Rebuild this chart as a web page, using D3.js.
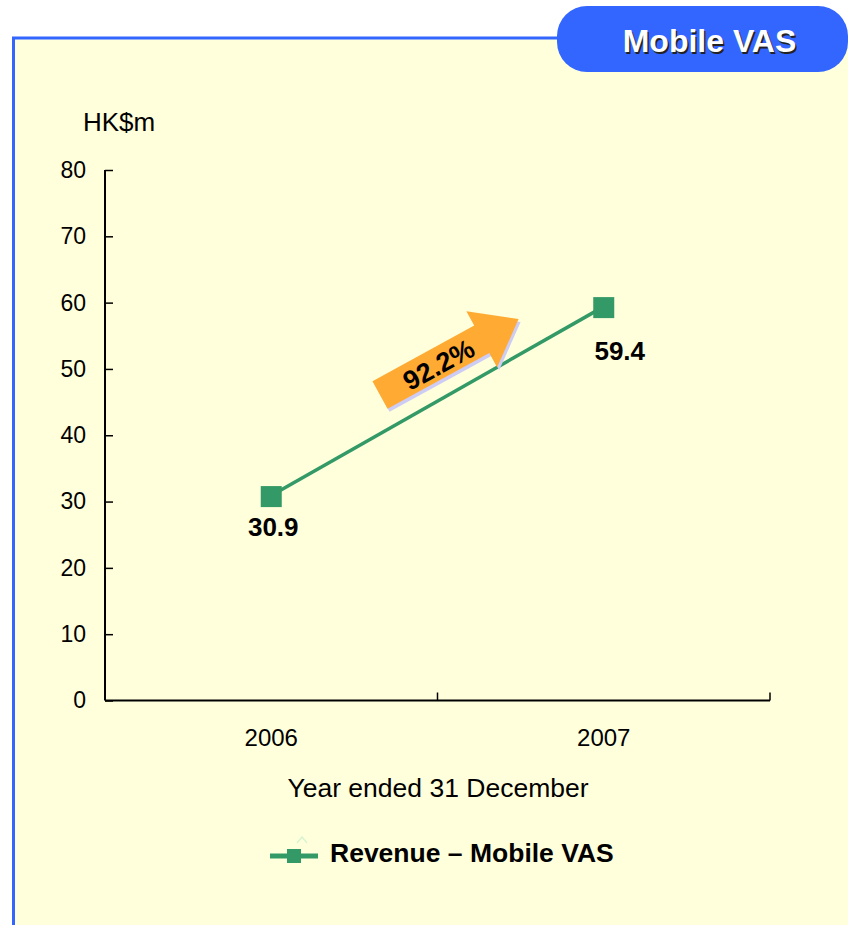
<!DOCTYPE html>
<html>
<head>
<meta charset="utf-8">
<script src="https://cdn.jsdelivr.net/npm/d3@7/dist/d3.min.js"></script>
<style>
  html, body { margin: 0; padding: 0; background: #ffffff; }
  svg { display: block; font-family: "Liberation Sans", Arial, Helvetica, sans-serif; }
</style>
</head>
<body>
<svg id="chart" width="848" height="925"></svg>
<script>
// Revenue from mobile value-added services, HK$ million
const years = ["2006", "2007"];
const revenue = [30.9, 59.4];
const yTicks = [0, 10, 20, 30, 40, 50, 60, 70, 80];
const growthLabel = "92.2%";
const seriesName = "Revenue \u2013 Mobile VAS";
const panelTitle = "Mobile VAS";
const yUnit = "HK$m";
const xTitle = "Year ended 31 December";

const green = "#339966";
const blue = "#3366FF";
const orange = "#FFAA33";

const svg = d3.select("#chart");

// Panel background with blue frame on left and top
svg.append("rect").attr("x", 13).attr("y", 38).attr("width", 850).attr("height", 900)
  .attr("fill", "#FFFFDC");
svg.append("path").attr("d", "M13.5,930 L13.5,38 L600,38")
  .attr("fill", "none").attr("stroke", blue).attr("stroke-width", 3);

// Title tab
svg.append("rect").attr("x", 557).attr("y", 6).attr("width", 291).attr("height", 66)
  .attr("rx", 30).attr("ry", 30).attr("fill", blue);
svg.append("text").attr("x", 711).attr("y", 53.5).attr("text-anchor", "middle")
  .attr("font-size", 32).attr("font-weight", "bold").attr("fill", "#222")
  .text(panelTitle);
svg.append("text").attr("x", 709.5).attr("y", 52).attr("text-anchor", "middle")
  .attr("font-size", 32).attr("font-weight", "bold").attr("fill", "#ffffff")
  .text(panelTitle);

// Scales
const x = d3.scaleBand().domain(years).range([105, 770]);
const y = d3.scaleLinear().domain([0, 80]).range([700.5, 170]);

// Y axis
const yAxis = svg.append("g").attr("transform", "translate(105,0)")
  .call(d3.axisLeft(y).tickValues(yTicks).tickSize(-8).tickPadding(19).tickFormat(d3.format("d")));
yAxis.attr("font-size", null).attr("font-family", null);
yAxis.select(".domain").attr("stroke", "#000").attr("stroke-width", 2)
  .attr("d", `M0,${y(80)}V${y(0)}`);
yAxis.selectAll(".tick line").attr("stroke", "#000").attr("stroke-width", 1.5);
yAxis.selectAll(".tick text").attr("font-size", 23).attr("fill", "#000");

// X axis with band boundary ticks
const xAxisG = svg.append("g").attr("transform", `translate(0,${y(0)})`);
xAxisG.append("line").attr("x1", 105).attr("x2", x.range()[1])
  .attr("stroke", "#000").attr("stroke-width", 2);
const bounds = years.map(d => x(d) + x.bandwidth());
xAxisG.selectAll("line.bt").data(bounds).enter().append("line").attr("class", "bt")
  .attr("x1", d => d).attr("x2", d => d).attr("y1", 0).attr("y2", -8)
  .attr("stroke", "#000").attr("stroke-width", 1.5);
xAxisG.selectAll("text.yl").data(years).enter().append("text").attr("class", "yl")
  .attr("x", d => x(d) + x.bandwidth() / 2).attr("y", 45)
  .attr("text-anchor", "middle").attr("font-size", 24).attr("fill", "#000")
  .text(d => d);

// Axis titles
svg.append("text").attr("x", 83).attr("y", 131).attr("font-size", 26).attr("fill", "#000").text(yUnit);
svg.append("text").attr("x", 438).attr("y", 797).attr("text-anchor", "middle")
  .attr("font-size", 26.5).attr("fill", "#000").text(xTitle);

// Series line and markers
const pts = years.map((d, i) => ({ year: d, value: revenue[i] }));
const cx = d => x(d.year) + x.bandwidth() / 2;
svg.append("path").datum(pts)
  .attr("d", d3.line().x(cx).y(d => y(d.value)))
  .attr("fill", "none").attr("stroke", green).attr("stroke-width", 3.5);
svg.selectAll("rect.mk").data(pts).enter().append("rect").attr("class", "mk")
  .attr("x", d => cx(d) - 10.5).attr("y", d => y(d.value) - 9.5)
  .attr("width", 21).attr("height", 21).attr("fill", green);

// Value labels
const labelOffset = [{ dx: 2, dy: 40 }, { dx: 16, dy: 53 }];
svg.selectAll("text.val").data(pts).enter().append("text").attr("class", "val")
  .attr("x", (d, i) => cx(d) + labelOffset[i].dx)
  .attr("y", (d, i) => y(d.value) + labelOffset[i].dy)
  .attr("text-anchor", "middle").attr("font-size", 26).attr("font-weight", "bold")
  .attr("fill", "#000").text(d => d.value.toFixed(1));

// Growth arrow
const arrowPath = "M0,-15.7 L116,-15.7 L116,-32 L158,0 L116,32 L116,15.7 L0,15.7 Z";
const arrowG = svg.append("g").attr("transform", "translate(380,395) rotate(-28.7)");
arrowG.append("path").attr("d", arrowPath).attr("fill", "#CCCCF5")
  .attr("transform", "rotate(28.7) translate(2,3) rotate(-28.7)");
arrowG.append("path").attr("d", arrowPath).attr("fill", orange);
arrowG.append("text").attr("x", 66).attr("y", 11).attr("text-anchor", "middle")
  .attr("font-size", 27).attr("font-weight", "bold").attr("fill", "#000")
  .text(growthLabel);

// Legend
const lg = svg.append("g");
lg.append("line").attr("x1", 270).attr("x2", 318).attr("y1", 856).attr("y2", 856)
  .attr("stroke", green).attr("stroke-width", 5);
lg.append("rect").attr("x", 287).attr("y", 849).attr("width", 14).attr("height", 14).attr("fill", green);
lg.append("path").attr("d", "M297,843 L302,837 L307,843").attr("fill", "none")
  .attr("stroke", "#D8F5D0").attr("stroke-width", 1.5);
lg.append("text").attr("x", 330).attr("y", 862).attr("font-size", 26.5).attr("font-weight", "bold")
  .attr("fill", "#000").text(seriesName);
</script>
</body>
</html>
